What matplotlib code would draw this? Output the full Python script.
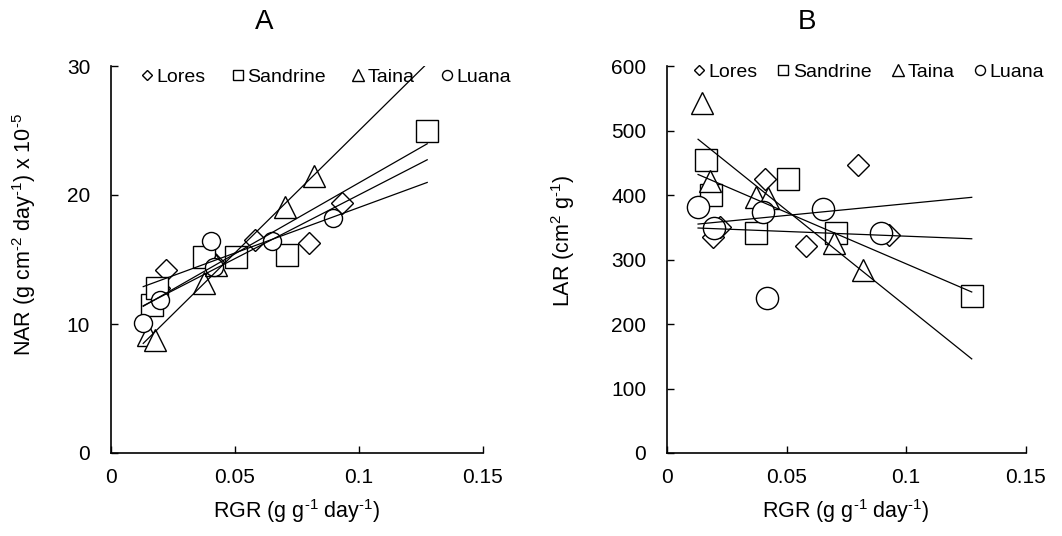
import numpy as np
import matplotlib
matplotlib.use("Agg")
import matplotlib.pyplot as plt

plt.rcParams['font.family'] = ['Liberation Sans', 'DejaVu Sans']
plt.rcParams['mathtext.fontset'] = 'custom'
plt.rcParams['mathtext.rm'] = 'Liberation Sans'
plt.rcParams['mathtext.it'] = 'Liberation Sans:italic'
plt.rcParams['mathtext.default'] = 'regular'

# cultivar data: RGR (x), NAR (panel A) and LAR (panel B)
cultivars = ['Lores', 'Sandrine', 'Taina', 'Luana']
markers = ['D', 's', '^', 'o']

rgr_lores = [0.0194, 0.0222, 0.041, 0.058, 0.080, 0.093]
rgr_sandrine = [0.0165, 0.0185, 0.0373, 0.0506, 0.0708, 0.1275]
rgr_taina = [0.0148, 0.0178, 0.0373, 0.0424, 0.070, 0.0818]
rgr_luana = [0.013, 0.0198, 0.0403, 0.0417, 0.0651, 0.0895]

nar_lores = [12.8, 14.2, 14.8, 16.5, 16.3, 19.4]
nar_sandrine = [11.45, 12.8, 15.2, 15.2, 15.35, 25.0]
nar_taina = [9.15, 8.76, 13.15, 14.6, 19.1, 21.5]
nar_luana = [10.1, 11.85, 16.4, 14.4, 16.45, 18.2]

lar_lores = [335, 350, 425, 321, 446, 338]
lar_sandrine = [454, 400, 341, 425, 341, 243]
lar_taina = [542, 421, 397, 395, 326, 284]
lar_luana = [382, 349, 374, 241, 378, 341]

rgr = [rgr_lores, rgr_sandrine, rgr_taina, rgr_luana]
nar = [nar_lores, nar_sandrine, nar_taina, nar_luana]
lar = [lar_lores, lar_sandrine, lar_taina, lar_luana]

W, H = 1062, 536
fig = plt.figure(figsize=(W / 100, H / 100), dpi=100)
axA = fig.add_axes([111 / W, 1 - 453 / H, (483 - 111) / W, (453 - 66) / H])
axB = fig.add_axes([667 / W, 1 - 453 / H, (1025.5 - 667) / W, (453 - 66) / H])

# marker sizes (pt) per cultivar and panel, and in the legend
msA = [11.2, 15.8, 16, 13]
msB = [11.2, 15.8, 16, 16]
ms_leg = [5.6, 7.8, 8, 7.2]

xall = np.concatenate([np.array(r) for r in rgr])
xfit = np.array([xall.min(), xall.max()])

unit_x = r'RGR (g g$^{\text{-1}}$ day$^{\text{-1}}$)'


def draw(ax, ys, ms, ylim, yticks, legx, legy, colsp):
    for i in range(4):
        ax.plot(rgr[i], ys[i], linestyle='none', marker=markers[i], ms=ms[i],
                mfc='white', mec='black', mew=1.0, label=cultivars[i], zorder=2 + i)
    for i in range(4):
        k, b = np.polyfit(rgr[i], ys[i], 1)
        ax.plot(xfit, k * xfit + b, color='black', lw=0.9, zorder=10)
    ax.set_xlim(0, 0.15)
    ax.set_ylim(*ylim)
    ax.set_xticks([0, 0.05, 0.1, 0.15])
    ax.set_xticklabels(['0', '0.05', '0.1', '0.15'])
    ax.set_yticks(yticks)
    for s in ['top', 'right']:
        ax.spines[s].set_visible(False)
    for s in ['left', 'bottom']:
        ax.spines[s].set_linewidth(1.2)
    ax.tick_params(direction='in', length=5, width=1, labelsize=15)
    ax.tick_params(axis='x', pad=11)
    ax.tick_params(axis='y', pad=15)
    ax.set_xlabel(unit_x, fontsize=15.5, labelpad=7)
    leg = ax.legend(loc='center left', bbox_to_anchor=(legx, legy), ncol=4,
                    frameon=False, fontsize=14, handlelength=0.6,
                    handletextpad=0.2, columnspacing=colsp, borderpad=0,
                    borderaxespad=0)
    for h, m in zip(leg.legend_handles, ms_leg):
        h.set_markersize(m)
        h.set_markeredgewidth(1.0)


draw(axA, nar, msA, (0, 30), [0, 10, 20, 30], 0.081, 0.9716, 1.34)
draw(axB, lar, msB, (0, 600), [0, 100, 200, 300, 400, 500, 600], 0.072, 0.984, 1.03)

fig.text(24 / W, 1 - 235 / H,
         r'NAR (g cm$^{\text{-2}}$ day$^{\text{-1}}$) x 10$^{\text{-5}}$',
         rotation=90, ha='center', va='center', fontsize=15.5)
fig.text(563 / W, 1 - 241 / H, r'LAR (cm$^{2}$ g$^{\text{-1}}$)', rotation=90,
         ha='center', va='center', fontsize=15.5)
fig.text(264 / W, 1 - 22 / H, 'A', ha='center', va='center', fontsize=20)
fig.text(807 / W, 1 - 22 / H, 'B', ha='center', va='center', fontsize=20)

fig.savefig('out.png', dpi=100)
